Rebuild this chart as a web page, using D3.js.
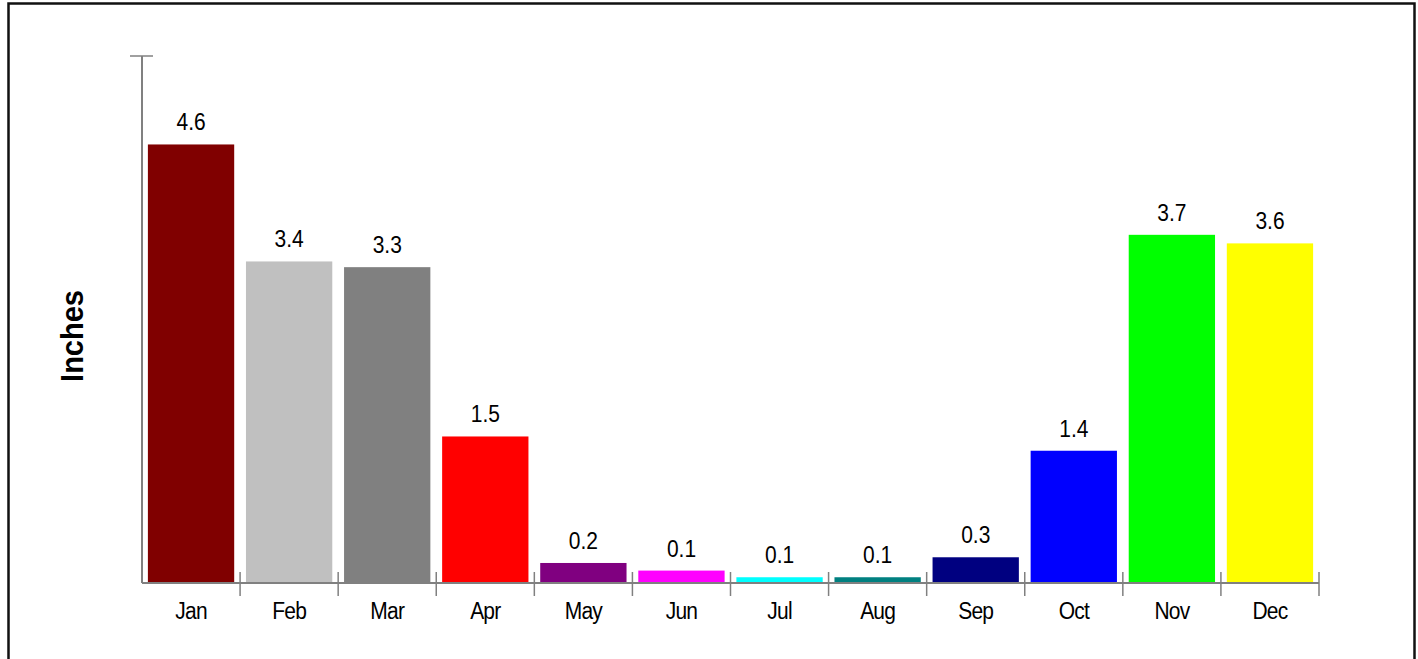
<!DOCTYPE html>
<html>
<head>
<meta charset="utf-8">
<script src="https://cdn.jsdelivr.net/npm/d3@7"></script>
<style>
  body { margin: 0; background: #fff; }
  text { font-family: Arial, "Liberation Sans", sans-serif; fill: #000; }
</style>
</head>
<body>
<div class="chart"></div>
<script>
// data
const months = ["Jan", "Feb", "Mar", "Apr", "May", "Jun", "Jul", "Aug", "Sep", "Oct", "Nov", "Dec"];
const rainfall = [4.6, 3.37, 3.31, 1.53, 0.2, 0.12, 0.05, 0.05, 0.26, 1.38, 3.65, 3.56];
const labels = ["4.6", "3.4", "3.3", "1.5", "0.2", "0.1", "0.1", "0.1", "0.3", "1.4", "3.7", "3.6"];
const colors = ["#800000", "#c0c0c0", "#808080", "#ff0000", "#800080", "#ff00ff",
    "#00ffff", "#008080", "#000080", "#0000ff", "#00ff00", "#ffff00"];
const yMax = 5.53;

const W = 1418, H = 659;
const svg = d3.select(".chart").append("svg")
    .attr("width", W)
    .attr("height", H);

// outer frame
svg.append("rect")
    .attr("x", 8.5).attr("y", 3.5)
    .attr("width", 1406).attr("height", 720)
    .attr("fill", "none")
    .attr("stroke", "#111")
    .attr("stroke-width", 2.5);

// scales
const xScale = d3.scaleBand()
    .domain(months)
    .range([142, 1319])
    .paddingInner(0.12)
    .paddingOuter(0.06);
const yScale = d3.scaleLinear()
    .domain([0, yMax])
    .range([582, 56]);

const axisColor = "#808080";
const x0 = xScale.range()[0], x1 = xScale.range()[1];
const y0 = yScale(0);

// bars
svg.selectAll(".bar").data(months)
    .enter().append("rect")
    .attr("class", "bar")
    .attr("x", d => xScale(d))
    .attr("y", (d, i) => yScale(rainfall[i]))
    .attr("width", xScale.bandwidth())
    .attr("height", (d, i) => y0 - yScale(rainfall[i]))
    .attr("fill", (d, i) => colors[i]);

// value labels (slightly stretched vertically like the original)
svg.selectAll(".val").data(months)
    .enter().append("text")
    .attr("class", "val")
    .attr("transform", (d, i) =>
        `translate(${xScale(d) + xScale.bandwidth() / 2},${yScale(rainfall[i]) - 14}) scale(1,1.1)`)
    .attr("text-anchor", "middle")
    .style("font-size", "21px")
    .text((d, i) => labels[i]);

// y axis line and top tick
svg.append("line")
    .attr("x1", x0).attr("x2", x0)
    .attr("y1", yScale(yMax)).attr("y2", y0 + 1)
    .attr("stroke", axisColor).attr("stroke-width", 2);
svg.append("line")
    .attr("x1", x0 - 12).attr("x2", x0 + 11)
    .attr("y1", yScale(yMax)).attr("y2", yScale(yMax))
    .attr("stroke", axisColor).attr("stroke-width", 1.5);

// x axis line
svg.append("line")
    .attr("x1", x0).attr("x2", x1)
    .attr("y1", y0 + 1).attr("y2", y0 + 1)
    .attr("stroke", axisColor).attr("stroke-width", 2);

// ticks between categories
const step = xScale.step();
svg.selectAll(".tick").data(d3.range(1, months.length + 1))
    .enter().append("line")
    .attr("class", "tick")
    .attr("x1", k => x0 + k * step).attr("x2", k => x0 + k * step)
    .attr("y1", y0 - 10).attr("y2", y0 + 14)
    .attr("stroke", axisColor).attr("stroke-width", 1.5);

// month labels
svg.selectAll(".mon").data(months)
    .enter().append("text")
    .attr("class", "mon")
    .attr("transform", d => `translate(${xScale(d) + xScale.bandwidth() / 2},619) scale(1,1.15)`)
    .attr("text-anchor", "middle")
    .style("font-size", "21px")
    .style("letter-spacing", "-0.8px")
    .text(d => d);

// y axis title
svg.append("text")
    .attr("transform", "translate(83,336) rotate(-90) scale(1,1.1)")
    .attr("text-anchor", "middle")
    .style("font-size", "29px")
    .style("font-weight", "bold")
    .text("Inches");
</script>
</body>
</html>
